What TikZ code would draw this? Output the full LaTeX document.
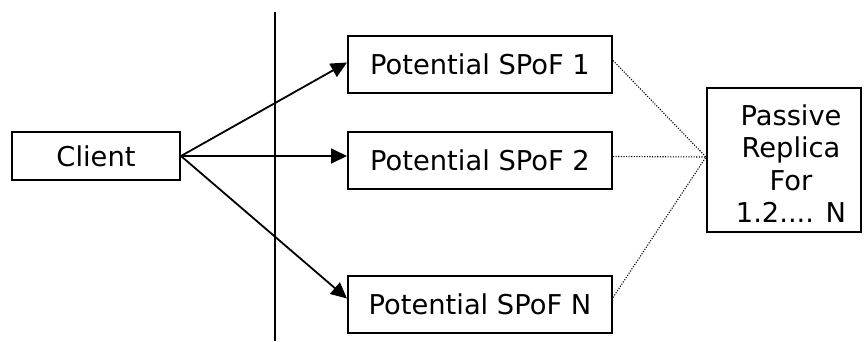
\documentclass[tikz,border=0pt]{standalone}
\usepackage{fontspec}
\setmainfont{DejaVu Sans}
\usetikzlibrary{arrows.meta}

\begin{document}
\begin{tikzpicture}[x=1pt,y=-1pt,
  box/.style={draw, line width=2pt, inner sep=0pt, align=center,
    font=\fontsize{27.3}{32.6}\selectfont},
  flow/.style={line width=1.8pt, -{Triangle[length=16pt,width=15pt]}},
  link/.style={line width=1.1pt, dash pattern=on 1.1pt off 1.5pt}]
  \useasboundingbox (0,0) rectangle (864,341);

  % client and the boundary it sits behind
  \node[box, minimum width=168pt, minimum height=48pt] (cl) at (96,156) {Client};
  \coordinate (bt) at (275,12);
  \coordinate (bb) at (275,341);
  \draw[line width=1.6pt] (bt) -- (bb);

  % candidate single points of failure
  \node[box, minimum width=264pt, minimum height=57pt] (s1) at (480,64.5) {Potential SPoF 1};
  \node[box, minimum width=264pt, minimum height=57pt] (s2) at (480,160.5) {Potential SPoF 2};
  \node[box, minimum width=264pt, minimum height=57pt] (sn) at (480,304.5) {Potential SPoF N};

  % shared passive replica (text sits slightly low and right in its box)
  \node[box, minimum width=154pt, minimum height=144pt] (rep) at (784,160)
    {\hspace*{14pt}\raisebox{-7.5pt}[\height][\depth]{\begin{tabular}{@{}c@{}}Passive\\Replica\\For\\1.2.... N\end{tabular}}};
  \coordinate (hub) at ([yshift=3pt]rep.west);

  % requests from the client
  \draw[flow] (cl.east) -- ([yshift=2pt]s1.west);
  \draw[flow] (cl.east) -- (s2.west |- cl.east);
  \draw[flow] (cl.east) -- ([yshift=6pt]sn.west);

  % backup relations
  \draw[link] ([yshift=4pt]s1.east) -- (hub);
  \draw[link] ([yshift=4pt]s2.east) -- (hub);
  \draw[link] ([yshift=7pt]sn.east) -- (hub);
\end{tikzpicture}
\end{document}
